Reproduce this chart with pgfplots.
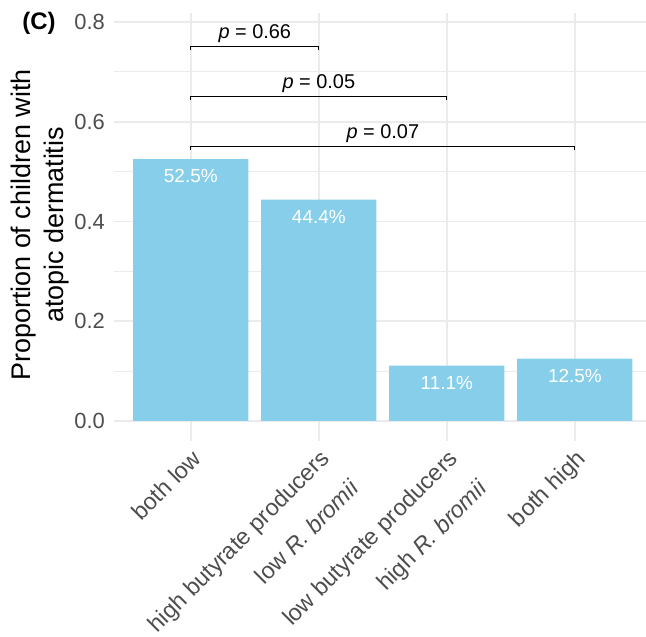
\documentclass[border=0pt]{standalone}
\usepackage{pgfplots}
\pgfplotsset{compat=1.18}
\usepackage{fontspec}
\setmainfont{Liberation Sans}
\definecolor{skyb}{HTML}{87CEEB}
\definecolor{gridg}{HTML}{EBEBEB}
\definecolor{tickg}{HTML}{4D4D4D}
\begin{document}
\begin{tikzpicture}[x=1bp,y=1bp]
\useasboundingbox (0,0) rectangle (646,637);
\begin{axis}[
  at={(114bp,216bp)}, anchor=south west,
  width=532bp, height=408bp, scale only axis,
  xmin=-0.6, xmax=3.556, ymin=0, ymax=0.818,
  axis line style={draw=none},
  xtick={0,1,2,3},
  xticklabels={both low,{high butyrate producers\\low \textit{R. bromii}},{low butyrate producers\\high \textit{R. bromii}},both high},
  ytick={0,0.2,0.4,0.6,0.8},
  yticklabels={0.0,0.2,0.4,0.6,0.8},
  minor ytick={0.1,0.3,0.5,0.7},
  xmajorgrids, ymajorgrids, yminorgrids,
  major grid style={color=gridg, line width=1.6bp},
  minor grid style={color=gridg, line width=0.9bp},
  xtick style={draw=none}, ytick style={draw=none},
  minor tick style={draw=none},
  xticklabel style={font=\fontsize{23.4}{42}\selectfont, color=tickg, xshift=0bp, yshift=-27bp, rotate=45, anchor=north east, align=right, inner sep=0pt},
  yticklabel style={font=\fontsize{22}{26}\selectfont, color=tickg, anchor=east, inner sep=0pt, xshift=-9bp},
  clip=false,
]
\addplot[ybar, bar width=0.9, fill=skyb, draw=none,
  point meta=explicit symbolic,
  nodes near coords={\pgfplotspointmeta},
  nodes near coords style={anchor=center, yshift=-17bp, text=white, font=\fontsize{19}{22}\selectfont}]
  coordinates {(0,0.525) [52.5\%] (1,0.444) [44.4\%] (2,0.111) [11.1\%] (3,0.125) [12.5\%]};
% x tick marks
\foreach \i in {0,1,2,3}{
  \edef\tmp{\noexpand\draw[gridg, line width=1.6bp] (axis cs:\i,0) -- ([yshift=-20bp]axis cs:\i,0);}
  \tmp
}
% significance brackets
\addplot[black, line width=0.9bp, sharp plot, forget plot] coordinates {(0,0.744) (0,0.75) (1,0.75) (1,0.744)};
\addplot[black, line width=0.9bp, sharp plot, forget plot] coordinates {(0,0.644) (0,0.65) (2,0.65) (2,0.644)};
\addplot[black, line width=0.9bp, sharp plot, forget plot] coordinates {(0,0.544) (0,0.55) (3,0.55) (3,0.544)};
\node[anchor=base, yshift=8bp, font=\fontsize{20}{24}\selectfont, inner sep=0pt] at (axis cs:0.5,0.75) {\textit{p} = 0.66};
\node[anchor=base, yshift=8bp, font=\fontsize{20}{24}\selectfont, inner sep=0pt] at (axis cs:1,0.65) {\textit{p} = 0.05};
\node[anchor=base, yshift=8bp, font=\fontsize{20}{24}\selectfont, inner sep=0pt] at (axis cs:1.5,0.55) {\textit{p} = 0.07};
\end{axis}
\node[rotate=90, align=center, font=\fontsize{27}{33}\selectfont, inner sep=0pt] at (40,412) {Proportion of children with\\atopic dermatitis};
\node[font=\fontsize{24}{28}\selectfont\bfseries, inner sep=0pt] at (39,614) {(C)};
\end{tikzpicture}
\end{document}
